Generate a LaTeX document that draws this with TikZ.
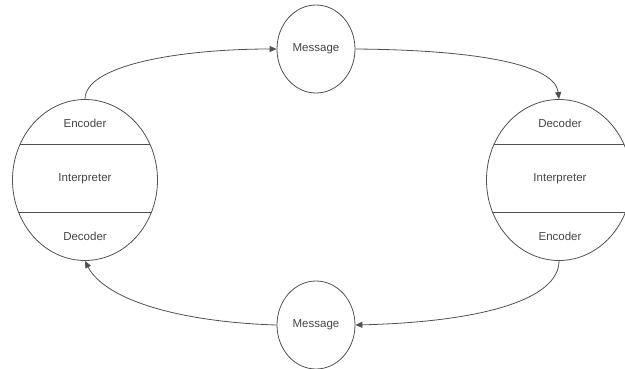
\documentclass[tikz,border=0pt]{standalone}
\usepackage{fontspec}
\setmainfont{Liberation Sans}
\usetikzlibrary{shapes.geometric,arrows.meta}
\definecolor{ln}{HTML}{505050}
\definecolor{tx}{HTML}{444444}
\begin{document}
\begin{tikzpicture}[x=1pt,y=-1pt,
  bigcirc/.style={draw=ln,line width=0.8pt,ellipse,inner sep=0pt,minimum width=145pt,minimum height=161pt},
  msgcirc/.style={draw=ln,line width=0.8pt,ellipse,inner sep=0pt,minimum width=78pt,minimum height=88pt,text=tx,font=\fontsize{11.5}{13}\selectfont},
  lbl/.style={text=tx,font=\fontsize{11.5}{13}\selectfont,inner sep=0pt},
  divider/.style={draw=ln,line width=0.8pt},
  flow/.style={draw=ln,line width=0.8pt,-{Triangle[length=7pt,width=6pt]}}]
\useasboundingbox (0,0) rectangle (625,368);
% left station
\node[bigcirc] (L) at (85,180) {};
\begin{scope}
\clip (85,180) ellipse [x radius=72.5, y radius=80.5];
\draw[divider] (0,144) -- (200,144);
\draw[divider] (0,212) -- (200,212);
\end{scope}
\node[lbl] (Lenc) at (85,123) {Encoder};
\node[lbl] (Lint) at (85,179) {Interpreter};
\node[lbl] (Ldec) at (85,236) {Decoder};
% right station
\node[bigcirc] (R) at (559,180) {};
\begin{scope}
\clip (559,180) ellipse [x radius=72.5, y radius=80.5];
\draw[divider] (450,144) -- (640,144);
\draw[divider] (450,212) -- (640,212);
\end{scope}
\node[lbl] (Rdec) at (560,123) {Decoder};
\node[lbl] (Rint) at (560,179) {Interpreter};
\node[lbl] (Renc) at (560,236) {Encoder};
% messages
\node[msgcirc] (MT) at (316,49) {Message};
\node[msgcirc] (MB) at (316,325) {Message};
% connectors
\draw[flow] (L.north) .. controls (85,65) and (180,49) .. (MT.west);
\draw[flow] (MT.east) .. controls (480,50) and (555,65) .. (R.north);
\draw[flow] (R.south) .. controls (559,300) and (480,322) .. (MB.east);
\draw[flow] (MB.west) .. controls (180,322) and (105,300) .. (L.south);
\end{tikzpicture}
\end{document}
